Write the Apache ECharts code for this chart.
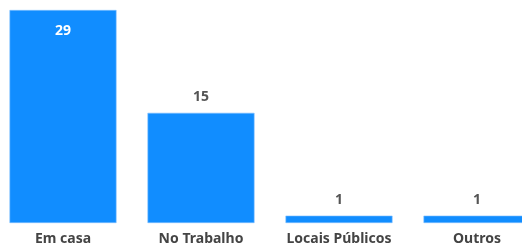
<!DOCTYPE html>
<html>
<head>
<meta charset="utf-8">
<script src="https://cdn.jsdelivr.net/npm/echarts@6/dist/echarts.min.js"></script>
<style>
  html, body { margin: 0; padding: 0; background: #fff; overflow: hidden; }
  #wrap { position: relative; width: 522px; height: 246px; overflow: hidden; }
  /* a última barra sai do quadro, como no original */
  #chart { position: absolute; left: -6px; top: 0; width: 552px; height: 246px; }
</style>
</head>
<body>
<div id="wrap"><div id="chart"></div></div>
<script>
// dados do gráfico
var categorias = ['Em casa', 'No Trabalho', 'Locais Públicos', 'Outros'];
var valores = [29, 15, 1, 1];

var myChart = echarts.init(document.getElementById('chart'));
var maior = Math.max.apply(null, valores);

// a maior barra leva o rótulo dentro, as outras em cima
var dados = valores.map(function (v) {
  var dentro = v === maior;
  return {
    value: v,
    label: {
      position: dentro ? 'insideTop' : 'top',
      distance: dentro ? 14 : 9,
      color: dentro ? '#ffffff' : '#555555'
    }
  };
});

var option = {
  backgroundColor: '#ffffff',
  animation: false,
  grid: { left: 0, right: 0, top: 10, bottom: 23, containLabel: false },
  xAxis: {
    type: 'category',
    data: categorias,
    axisLine: { show: false },
    axisTick: { show: false },
    axisLabel: {
      interval: 0,
      margin: 9,
      color: '#444444',
      fontFamily: 'Noto Sans',
      fontWeight: 'bold',
      fontSize: 14
    }
  },
  yAxis: {
    type: 'value',
    min: 0,
    max: 29,
    show: false,
    splitLine: { show: false }
  },
  series: [{
    type: 'bar',
    data: dados,
    barWidth: 107,
    itemStyle: { color: '#118DFF', borderColor: '#7fbfff', borderWidth: 0.6 },
    label: {
      show: true,
      fontFamily: 'Noto Sans',
      fontWeight: 'bold',
      fontSize: 14
    }
  }]
};

myChart.setOption(option);
</script>
</body>
</html>
